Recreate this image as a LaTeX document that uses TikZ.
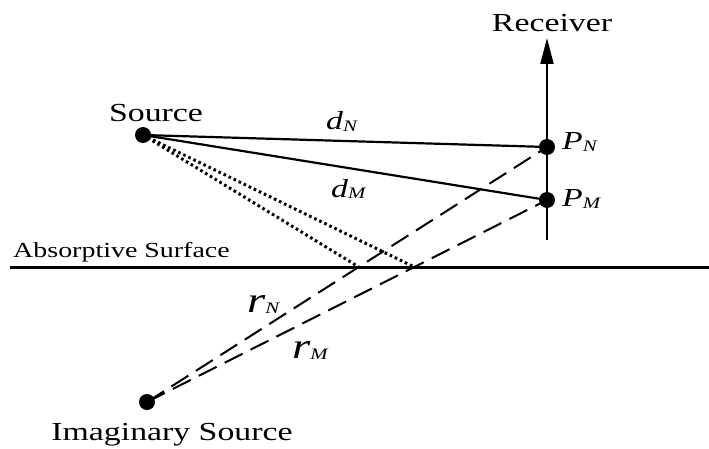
\documentclass[tikz,border=0pt]{standalone}
\usepackage{fontspec}
\setmainfont{Liberation Serif}
\newfontfamily\widefont[FakeStretch=1.3]{Liberation Serif}
\usetikzlibrary{arrows.meta,calc}
\newcommand\sublab[3]{{\widefont\itshape\fontsize{#3}{#3}\selectfont #1\raisebox{-1.5pt}{\fontsize{16}{16}\selectfont #2}}}
\begin{document}
\begin{tikzpicture}[x=1pt,y=-1pt,
  dot/.style={circle,fill=black,inner sep=0pt,minimum size=16pt},
  lbl/.style={inner sep=0pt,font=\widefont\fontsize{26}{26}\selectfont},
  slbl/.style={inner sep=0pt,font=\widefont\fontsize{21.5}{21.5}\selectfont},
  mlbl/.style={inner sep=0pt,anchor=base west},
  solidline/.style={line width=2.2pt},
  dashline/.style={line width=2pt,dash pattern=on 20pt off 9pt},
  dotline/.style={line width=3pt,dash pattern=on 2.6pt off 3pt},
  surf/.style={line width=3pt},
  recv/.style={line width=2pt,-{Triangle[length=26pt,width=13pt]}}]
\useasboundingbox (0,0) rectangle (709,449);

% points
\node[dot] (S) at (143,135) {};
\node[dot] (PN) at (547,147) {};
\node[dot] (PM) at (547,200) {};
\node[dot] (I) at (147,402) {};
\coordinate (Rb) at (547,240);
\coordinate (Rt) at (547,38);
\coordinate (SL) at (10,267);
\coordinate (SR) at (709,267);
\coordinate (R1) at ($(I.center)!0.5294!(PN.center)$);
\coordinate (R2) at ($(I.center)!0.6683!(PM.center)$);

% labels
\node[lbl,anchor=base] (tS) at (156,122) {Source};
\node[lbl,anchor=base] (tR) at (552,32) {Receiver};
\node[slbl,anchor=base] (tA) at (121.5,257) {Absorptive Surface};
\node[lbl,anchor=base] (tI) at (172,440) {Imaginary Source};
\node[mlbl] (dN) at (326,130) {\sublab{d}{N}{26}};
\node[mlbl] (dM) at (331,197) {\sublab{d}{M}{26}};
\node[mlbl] (pN) at (562,150) {\sublab{P}{N}{26}};
\node[mlbl] (pM) at (562,207) {\sublab{P}{M}{26}};
\node[mlbl] (rN) at (247,312) {\sublab{r}{N}{36}};
\node[mlbl] (rM) at (292,358) {\sublab{r}{M}{36}};

% lines
\draw[surf] (SL) -- (SR);
\draw[recv] (Rb) -- (Rt);
\draw[solidline] (S.center) -- (PN.center);
\draw[solidline] (S.center) -- (PM.center);
\draw[dotline] (S.center) -- (R1);
\draw[dotline] (S.center) -- (R2);
\draw[dashline] (I.center) -- (PN.center);
\draw[dashline] (I.center) -- (PM.center);
\end{tikzpicture}
\end{document}
